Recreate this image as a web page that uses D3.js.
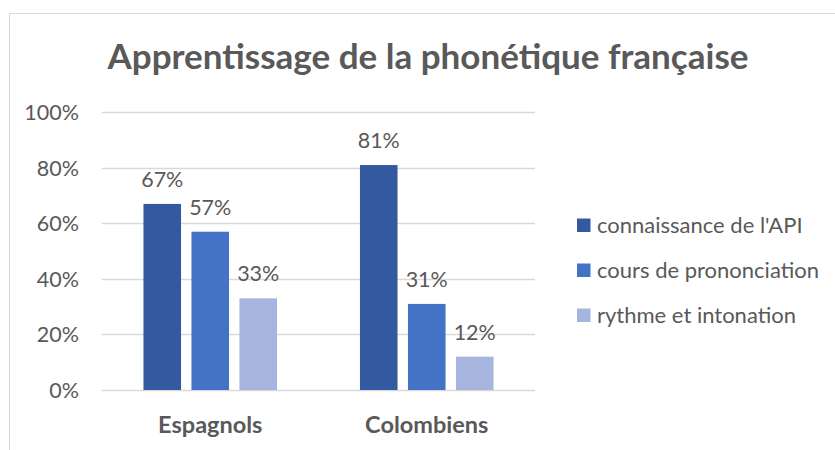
<!DOCTYPE html>
<html lang="fr">
<head>
<meta charset="UTF-8">
<title>Apprentissage de la phonétique française</title>
<script src="https://cdn.jsdelivr.net/npm/d3@7/dist/d3.min.js"></script>
<style>
  body { margin: 0; background: #ffffff; }
  text { font-family: Lato, "Open Sans", sans-serif; fill: #595959; }
</style>
</head>
<body>
<div id="chart"></div>
<script>
// data
var categories = ["Espagnols", "Colombiens"];
var series = ["connaissance de l'API", "cours de prononciation", "rythme et intonation"];
var values = [
  [0.67, 0.57, 0.33],   // Espagnols
  [0.81, 0.31, 0.12]    // Colombiens
];
var yTicks = [0, 0.2, 0.4, 0.6, 0.8, 1.0];
var colors = ["#335AA0", "#4472C4", "#A6B5DE"];

var w = 835, h = 450;
var plotLeft = 102, plotRight = 535, plotTop = 112.3, plotBottom = 390;

var svg = d3.select("#chart").append("svg")
  .attr("width", w)
  .attr("height", h);

// chart frame
svg.append("rect")
  .attr("x", 9.5).attr("y", 13.5)
  .attr("width", w + 10).attr("height", h + 10)
  .attr("fill", "#ffffff")
  .attr("stroke", "#d9d9d9");

svg.append("text")
  .attr("x", 428).attr("y", 69)
  .attr("text-anchor", "middle")
  .attr("font-size", "35px")
  .attr("font-weight", "bold")
  .text("Apprentissage de la phonétique française");

var y = d3.scaleLinear().domain([0, 1]).range([plotBottom, plotTop]);
var x0 = d3.scaleBand().domain(categories).range([plotLeft, plotRight])
  .paddingInner(0.383).paddingOuter(0.1915);
var x1 = d3.scaleBand().domain(series).range([0, x0.bandwidth()])
  .paddingInner(0.217);

// gridlines + tick labels
svg.append("g")
  .selectAll("line")
  .data(yTicks)
  .enter().append("line")
  .attr("x1", plotLeft).attr("x2", plotRight)
  .attr("y1", function(d) { return Math.round(y(d)) + 0.5; })
  .attr("y2", function(d) { return Math.round(y(d)) + 0.5; })
  .attr("stroke", "#d9d9d9")
  .attr("stroke-width", 1.3);

svg.append("g")
  .selectAll("text")
  .data(yTicks)
  .enter().append("text")
  .attr("x", 79)
  .attr("y", function(d) { return y(d); })
  .attr("dy", "0.36em")
  .attr("text-anchor", "end")
  .attr("font-size", "21.5px")
  .text(d3.format(".0%"));

// bars
var groups = svg.append("g")
  .selectAll("g")
  .data(categories)
  .enter().append("g")
  .attr("transform", function(d) { return "translate(" + x0(d) + ",0)"; });

groups.selectAll("rect")
  .data(function(d, i) { return values[i].map(function(v, j) { return {s: series[j], v: v, j: j}; }); })
  .enter().append("rect")
  .attr("x", function(d) { return x1(d.s); })
  .attr("y", function(d) { return y(d.v); })
  .attr("width", x1.bandwidth())
  .attr("height", function(d) { return y(0) - y(d.v); })
  .attr("fill", function(d) { return colors[d.j]; });

groups.selectAll("text")
  .data(function(d, i) { return values[i].map(function(v, j) { return {s: series[j], v: v}; }); })
  .enter().append("text")
  .attr("x", function(d) { return x1(d.s) + x1.bandwidth() / 2; })
  .attr("y", function(d) { return y(d.v) - 17; })
  .attr("text-anchor", "middle")
  .attr("font-size", "21.5px")
  .text(function(d) { return d3.format(".0%")(d.v); });

// category labels
svg.append("g")
  .selectAll("text")
  .data(categories)
  .enter().append("text")
  .attr("x", function(d) { return x0(d) + x0.bandwidth() / 2; })
  .attr("y", 433)
  .attr("text-anchor", "middle")
  .attr("font-size", "23.5px")
  .attr("font-weight", "bold")
  .text(function(d) { return d; });

// legend
var legend = svg.append("g")
  .selectAll("g")
  .data(series)
  .enter().append("g")
  .attr("transform", function(d, i) { return "translate(577," + (225 + i * 45) + ")"; });

legend.append("rect")
  .attr("x", 0).attr("y", -6.5)
  .attr("width", 13.5).attr("height", 13.5)
  .attr("fill", function(d, i) { return colors[i]; });

legend.append("text")
  .attr("x", 20).attr("y", 0)
  .attr("dy", "0.36em")
  .attr("font-size", "22px")
  .text(function(d) { return d; });
</script>
</body>
</html>
